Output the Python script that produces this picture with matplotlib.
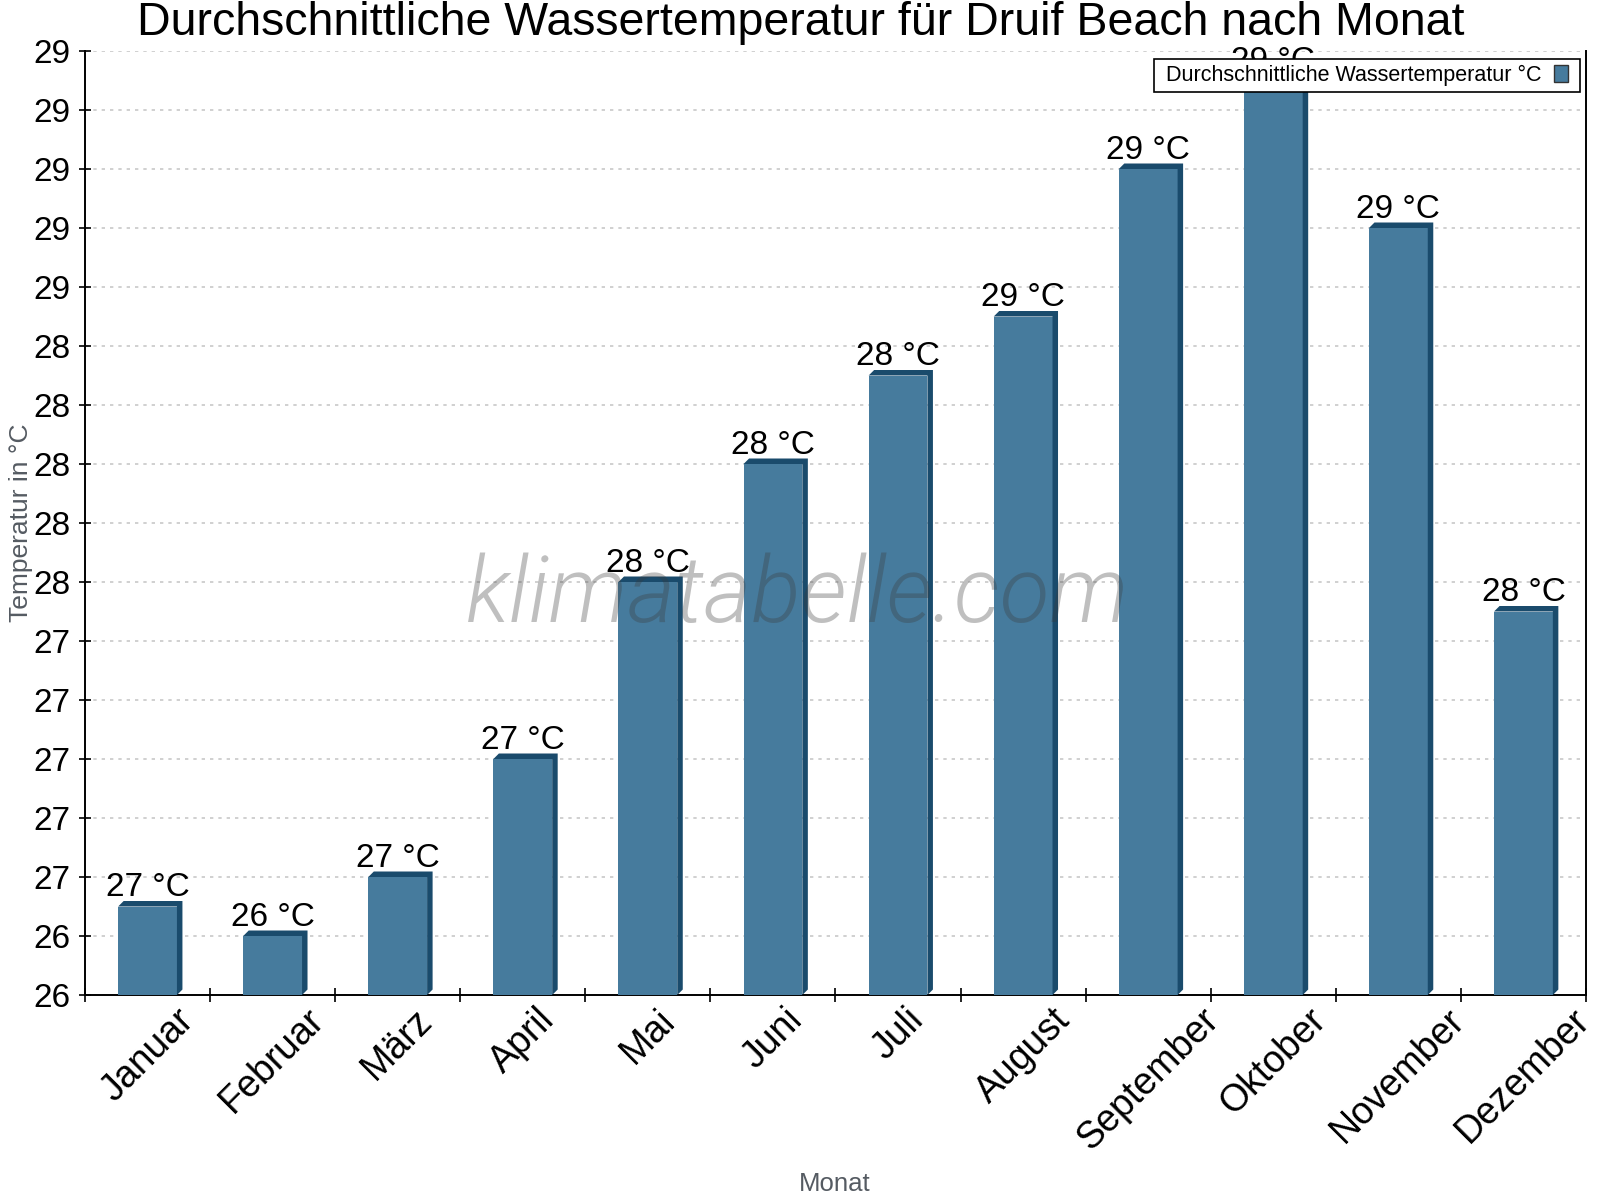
import numpy as np
import matplotlib
matplotlib.use("Agg")
import matplotlib.pyplot as plt
from matplotlib.patches import Polygon, Rectangle
from matplotlib.transforms import IdentityTransform
from matplotlib.ticker import FixedLocator, FuncFormatter

plt.rcParams['font.family'] = ['Liberation Sans', 'DejaVu Sans']

months = ["Januar", "Februar", "März", "April", "Mai", "Juni", "Juli",
          "August", "September", "Oktober", "November", "Dezember"]
water_temp = [26.5, 26.4, 26.6, 27.0, 27.6, 28.0, 28.3, 28.5, 29.0, 29.3, 28.8, 27.5]
y_ticks = [26.2, 26.4, 26.6, 26.8, 27.0, 27.2, 27.4, 27.6, 27.8, 28.0,
           28.2, 28.4, 28.6, 28.8, 29.0, 29.2, 29.4]

title = "Durchschnittliche Wassertemperatur für Druif Beach nach Monat"
series_name = "Durchschnittliche Wassertemperatur °C"

front = '#467b9d'
side = '#1a4b6c'
bar_w = 0.47
depth_px = 5.5

def r_half_up(v):
    return int(np.floor(v + 0.5 + 1e-9))

fig = plt.figure(figsize=(16, 12), dpi=100)
ax = fig.add_axes([85/1600, 1-995/1200, (1586-85)/1600, (995-51)/1200])

x = np.arange(len(months))
ax.set_xlim(-0.5, len(months) - 0.5)
ax.set_ylim(y_ticks[0], y_ticks[-1])

bars = ax.bar(x, water_temp, width=bar_w, color=front, label=series_name, zorder=3,
              linewidth=0)

# 3D depth faces (offset measured in pixels, converted through the axes transform)
p0 = ax.transData.inverted().transform((0, 0))
p1 = ax.transData.inverted().transform((depth_px, depth_px))
dx, dy = p1[0] - p0[0], p1[1] - p0[1]
ymin = y_ticks[0]
for xi, v in zip(x, water_temp):
    x0, x1 = xi - bar_w / 2, xi + bar_w / 2
    verts = [(x0, v), (x0 + dx, v + dy), (x1 + dx, v + dy), (x1 + dx, ymin + dy),
             (x1, ymin), (x1, v)]
    ax.add_patch(Polygon(verts, closed=True, facecolor=side, edgecolor='none', zorder=3))

for xi, v in zip(x, water_temp):
    ax.annotate(f"{r_half_up(v)} °C", (xi, v), xytext=(0, 7.5), textcoords='offset points',
                ha='center', va='baseline', fontsize=24, color='black', zorder=4)

ax.yaxis.set_major_locator(FixedLocator(y_ticks))
ax.yaxis.set_major_formatter(FuncFormatter(lambda v, p: str(r_half_up(v))))
ax.tick_params(axis='y', which='major', direction='inout', length=9, width=1.2,
               labelsize=24, pad=6)

ax.set_xticks(x)
ax.set_xticklabels(months, rotation=45, ha='center', fontsize=27)
ax.set_xticks(np.arange(len(months) + 1) - 0.5, minor=True)
ax.tick_params(axis='x', which='major', length=0, pad=5)
ax.tick_params(axis='x', which='minor', direction='inout', length=10, width=1.2)

ax.grid(axis='y', color='#c8c8c8', linestyle=(0, (2, 3)), linewidth=1.2, zorder=0)
ax.set_axisbelow(True)

ax.spines['top'].set_visible(False)
for s in ['left', 'right', 'bottom']:
    ax.spines[s].set_linewidth(1.4)
    ax.spines[s].set_color('black')

fig.text(798/1600, 1 - 597/1200, "klimatabelle.com", ha='center', va='center',
         fontsize=66, style='italic', fontweight=300, family=['Roboto', 'Liberation Sans'],
         color='#3a3a3a', alpha=0.32, zorder=5)

fig.text(801/1600, 1 - 23/1200, title, ha='center', va='center', fontsize=33.5)

fig.text(21/1600, 1 - 523/1200, "Temperatur in °C", rotation=90,
         ha='center', va='center', fontsize=19, color='#555b62')
fig.text(835/1600, 1 - 1184/1200, "Monat", ha='center', va='center', fontsize=18.5,
         color='#555b62')

# legend (frame drawn separately so horizontal and vertical padding can differ)
pad_x, pad_y = 12, 6
leg = ax.legend(loc='upper right',
                bbox_to_anchor=((1580 - pad_x - 85) / 1501, 1 - (59 + pad_y - 51) / 944),
                borderaxespad=0, fontsize=15.5, markerfirst=False, frameon=False,
                handlelength=0.63, handleheight=0.82, handletextpad=0.6, borderpad=0)
leg.set_zorder(10)
for h in leg.legend_handles:
    h.set_edgecolor('#333333')
    h.set_linewidth(1.0)

fig.canvas.draw()
bb = leg.get_window_extent()
frame = Rectangle((bb.x0 - pad_x, bb.y0 - pad_y), bb.width + 2 * pad_x, bb.height + 2 * pad_y,
                  transform=IdentityTransform(), facecolor='white', edgecolor='black',
                  linewidth=1.2, zorder=9, clip_on=False)
ax.add_artist(frame)

fig.savefig("out.png", dpi=100)
